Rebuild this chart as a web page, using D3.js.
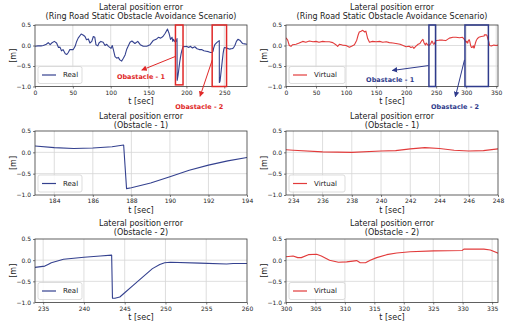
<!DOCTYPE html>
<html>
<head>
<meta charset="utf-8">
<script src="https://cdn.jsdelivr.net/npm/d3@7"></script>
<style>
body{margin:0;background:#fff;}
svg{font-family:"DejaVu Sans",sans-serif;display:block;}
</style>
</head>
<body>
<svg id="chart" width="505" height="325"></svg>
<script>
// lateral error of the real vehicle, t in seconds, error in metres
const realT = [0,4,8,11,15,17.5,20,22,25.5,28.5,31,33,35,37,40,42,44,46,50.5,53,55,57,61,64,66,68,70.5,72.5,75,77,79,80.5,83,84.5,87,90,92.5,94.7,97,100.4,102,103.5,105.7,108,110,112,114.5,116.7,119,121,123,125.5,128,130,132,135.7,139,143,147.6,152,156,160,163,166,169,172,175,177,179,181,182,183,184,185,186,187,187.6,187.75,188,189,190,191,192,193,194,195,196,198,200,203,205,208,211,214,217,220,223,226,229,232,234,235.2,235.6,236,237.5,240,242,243.4,243.5,243.8,244.4,245,246,247.2,248.4,249.3,249.9,250.6,254.2,257.5,258.3,260,262,264,266,268,271,274,277,280];
const realE = [-0.02,-0.01,-0.01,0.0,0.03,0.07,0.02,0.06,0.1,0.06,-0.05,-0.04,-0.13,-0.1,-0.2,-0.22,-0.17,-0.1,-0.1,-0.02,0.1,0.18,0.28,0.25,0.22,0.14,0.16,0.06,0.1,0.22,0.2,0.02,-0.01,0.06,0.1,0.08,0.0,0.03,-0.02,-0.07,0.0,-0.1,-0.27,-0.31,-0.29,-0.35,-0.38,-0.31,-0.23,-0.1,-0.02,0.08,0.11,0.08,0.05,0.1,0.02,-0.02,-0.02,0.02,0.12,0.15,0.2,0.18,0.22,0.3,0.4,0.3,0.15,0.2,0.1,0.15,0.11,0.09,0.1,0.13,0.17,-0.85,-0.83,-0.72,-0.57,-0.42,-0.3,-0.2,-0.12,-0.06,-0.02,-0.03,-0.02,-0.05,-0.02,-0.06,-0.03,-0.08,-0.1,-0.1,-0.13,-0.14,-0.15,-0.17,-0.17,-0.14,-0.1,-0.06,0.02,0.07,0.1,0.12,-0.9,-0.9,-0.87,-0.77,-0.6,-0.4,-0.2,-0.1,-0.06,-0.05,-0.07,-0.09,-0.08,-0.08,-0.06,0.0,0.1,0.15,0.12,0.05,0.04,0.03];

// lateral error of the virtual vehicle
const virtualT = [0,2.8,5.5,8.3,11,16.7,22,27.8,33,38.9,45,50,55,61,66,72,78,83,86,88.9,94,100,105.6,110,113.9,117.8,120,122,125,127.8,131,133,136,139,144,150,156,161,167,172,178,183,190,195,200,205,208,211,213,216,220,223,226,228,230,232,233.5,234,236,238,240,241,242,243,244,245,246,247,248,250,255,261,266,272,278,283,289,294,297,300,301.2,302,302.6,303.8,305.2,306,307.4,308.9,310.3,312,312.6,313.5,314.3,315.4,317.1,318.8,321.1,325.1,329.9,330.2,333.6,334.7,336.1,337.5,339,342,346,350,353];
const virtualE = [0.19,0.13,0.0,-0.02,0.02,0.03,0.06,0.1,0.08,0.11,0.09,0.1,0.08,0.1,0.09,0.09,0.07,0.02,-0.02,0.03,0.01,0.0,-0.04,-0.01,0.02,0.13,0.25,0.33,0.35,0.37,0.33,0.35,0.17,0.08,0.1,0.09,0.1,0.08,0.09,0.07,0.06,0.05,0.03,0.0,-0.03,-0.02,-0.05,-0.03,-0.07,-0.02,0.03,0.05,0.12,0.15,0.06,0.01,0.06,0.05,0.01,0.0,0.03,0.04,0.08,0.11,0.09,0.05,0.03,0.04,0.08,0.12,0.13,0.13,0.12,0.18,0.2,0.2,0.19,0.2,0.15,0.08,0.1,0.06,0.06,0.13,0.14,0.1,0.0,-0.05,-0.04,-0.01,-0.06,-0.06,0.0,0.06,0.13,0.17,0.2,0.22,0.23,0.26,0.26,0.24,0.16,0.1,0.0,-0.01,0.01,0.0,0.01];

const yTicks = [-1.0, -0.5, 0.0, 0.5];
const fullRealTicks = [0, 50, 100, 150, 200, 250];
const fullVirtualTicks = [0, 50, 100, 150, 200, 250, 300, 350];
const obs1RealTicks = [184, 186, 188, 190, 192, 194];
const obs1VirtualTicks = [234, 236, 238, 240, 242, 244, 246, 248];
const obs2RealTicks = [235, 240, 245, 250, 255, 260];
const obs2VirtualTicks = [300, 305, 310, 315, 320, 325, 330, 335];

// obstacle windows marked on the full-run plots: [tStart, tEnd, eLow, eHigh]
const realBoxes = [[185.5, 195.5, -0.96, 0.5], [234, 253, -1.0, 0.5]];
const virtualBoxes = [[238, 249, -1.0, 0.5], [298, 337, -1.0, 0.5]];
// callouts: arrow from [t, e] to [t, e], label anchored at [t, e]
const realNotes = [
    {text: 'Obastacle - 1', from: [185, -0.27], to: [141, -0.6], at: [140, -0.78]},
    {text: 'Obastacle - 2', from: [234.2, -0.35], to: [218, -1.24], at: [217, -1.49]}
];
const virtualNotes = [
    {text: 'Obastacle - 1', from: [237.2, -0.49], to: [177, -0.61], at: [173.5, -0.83]},
    {text: 'Obastacle - 2', from: [297.2, -0.35], to: [282, -1.25], at: [281.5, -1.49]}
];

const REAL = '#34418f', VIRTUAL = '#e23b3b';
const BOX_RED = '#e02828', BOX_BLUE = '#2f3b8c';

const realData = realT.map((t, i) => ({t, e: realE[i]}));
const virtualData = virtualT.map((t, i) => ({t, e: virtualE[i]}));

const svg = d3.select('#chart');
const defs = svg.append('defs');
[['head-red', BOX_RED], ['head-blue', BOX_BLUE]].forEach(([id, c]) => {
    defs.append('marker')
        .attr('id', id)
        .attr('viewBox', '0 0 10 10')
        .attr('refX', 9).attr('refY', 5)
        .attr('markerWidth', 5.5).attr('markerHeight', 5.5)
        .attr('markerUnits', 'userSpaceOnUse')
        .attr('orient', 'auto')
      .append('path')
        .attr('d', 'M0,0 L10,5 L0,10 z')
        .attr('fill', c);
});

const fmt = v => (v < 0 ? '\u2212' : '') + Math.abs(v).toFixed(1);

const panels = [
    {x: 35, y: 25, w: 212, h: 61.5, dom: [0, 280], ticks: fullRealTicks, data: realData, color: REAL, name: 'Real', lw: 44,
     title: ['Lateral position error', '(Ring Road Static Obstacle Avoidance Scenario)'], titleY: [7.5, 16.5],
     boxes: realBoxes, notes: realNotes, noteColor: BOX_RED, head: 'head-red'},
    {x: 286, y: 25, w: 212, h: 61.5, dom: [0, 353], ticks: fullVirtualTicks, data: virtualData, color: VIRTUAL, name: 'Virtual', lw: 56,
     title: ['Lateral position error', '(Ring Road Static Obstacle Avoidance Scenario)'], titleY: [7.5, 16.5],
     boxes: virtualBoxes, notes: virtualNotes, noteColor: BOX_BLUE, head: 'head-blue'},
    {x: 35, y: 131, w: 212, h: 64, dom: [183, 194], ticks: obs1RealTicks, data: realData, color: REAL, name: 'Real', lw: 44,
     title: ['Lateral position error', '(Obstacle - 1)'], titleY: [116, 125]},
    {x: 286, y: 131, w: 212, h: 64, dom: [233.5, 248], ticks: obs1VirtualTicks, data: virtualData, color: VIRTUAL, name: 'Virtual', lw: 56,
     title: ['Lateral position error', '(Obstacle - 1)'], titleY: [116, 125]},
    {x: 35, y: 239, w: 212, h: 63.5, dom: [234, 260], ticks: obs2RealTicks, data: realData, color: REAL, name: 'Real', lw: 44,
     title: ['Lateral position error', '(Obstacle - 2)'], titleY: [223.5, 232]},
    {x: 286, y: 239, w: 212, h: 63.5, dom: [300, 336], ticks: obs2VirtualTicks, data: virtualData, color: VIRTUAL, name: 'Virtual', lw: 56,
     title: ['Lateral position error', '(Obstacle - 2)'], titleY: [223.5, 232]}
];

panels.forEach((p, idx) => {
    let x = d3.scaleLinear().domain(p.dom).range([p.x, p.x + p.w]),
        y = d3.scaleLinear().domain([-1, 0.5]).range([p.y + p.h, p.y]);

    let g = svg.append('g');
    let clipId = 'clip' + idx;
    defs.append('clipPath').attr('id', clipId)
      .append('rect').attr('x', p.x).attr('y', p.y).attr('width', p.w).attr('height', p.h);

    // grid
    g.append('g').selectAll('line.gx').data(p.ticks.filter(t => t > p.dom[0] && t < p.dom[1])).enter()
        .append('line')
        .attr('x1', d => x(d)).attr('x2', d => x(d))
        .attr('y1', p.y).attr('y2', p.y + p.h)
        .attr('stroke', '#d6d6d6').attr('stroke-width', 0.8);
    g.append('g').selectAll('line.gy').data(yTicks.filter(v => v > -1 && v < 0.5)).enter()
        .append('line')
        .attr('x1', p.x).attr('x2', p.x + p.w)
        .attr('y1', d => y(d)).attr('y2', d => y(d))
        .attr('stroke', '#d6d6d6').attr('stroke-width', 0.8);

    // series
    let line = d3.line().x(d => x(d.t)).y(d => y(d.e));
    g.append('path')
        .datum(p.data)
        .attr('clip-path', `url(#${clipId})`)
        .attr('d', line)
        .attr('fill', 'none')
        .attr('stroke', p.color)
        .attr('stroke-width', 1.1)
        .attr('stroke-linejoin', 'round');

    // axes
    let xAxis = d3.axisBottom(x).tickValues(p.ticks).tickSize(2).tickPadding(2).tickFormat(d3.format('d'));
    let yAxis = d3.axisLeft(y).tickValues(yTicks).tickSize(2).tickPadding(2).tickFormat(fmt);
    let ax = g.append('g').attr('transform', `translate(0,${p.y + p.h})`).call(xAxis);
    let ay = g.append('g').attr('transform', `translate(${p.x},0)`).call(yAxis);
    [ax, ay].forEach(a => {
        a.select('.domain').remove();
        a.selectAll('line').attr('stroke', '#444').attr('stroke-width', 0.7);
        a.selectAll('text').attr('font-size', 6).attr('fill', '#222').attr('font-family', '"DejaVu Sans",sans-serif');
    });

    g.append('rect')
        .attr('x', p.x).attr('y', p.y).attr('width', p.w).attr('height', p.h)
        .attr('fill', 'none').attr('stroke', '#3a3a3a').attr('stroke-width', 0.8);

    // titles and labels
    p.title.forEach((s, i) => {
        g.append('text')
            .attr('x', p.x + p.w / 2).attr('y', p.titleY[i])
            .attr('text-anchor', 'middle').attr('dominant-baseline', 'central')
            .attr('font-size', 8).attr('fill', '#222')
            .text(s);
    });
    g.append('text')
        .attr('x', p.x + p.w / 2).attr('y', p.y + p.h + 15)
        .attr('text-anchor', 'middle').attr('dominant-baseline', 'central')
        .attr('font-size', 8).attr('fill', '#222')
        .text('t [sec]');
    g.append('text')
        .attr('transform', `translate(${p.x - 22},${p.y + p.h / 2}) rotate(-90)`)
        .attr('text-anchor', 'middle').attr('dominant-baseline', 'central')
        .attr('font-size', 8).attr('fill', '#222')
        .text('[m]');

    // legend
    let lx = p.x + 3, ly = p.y + p.h - 20;
    let leg = g.append('g');
    leg.append('rect')
        .attr('x', lx).attr('y', ly).attr('width', p.lw).attr('height', 17).attr('rx', 2)
        .attr('fill', 'rgba(255,255,255,0.85)').attr('stroke', '#cfcfcf').attr('stroke-width', 0.7);
    leg.append('line')
        .attr('x1', lx + 4).attr('x2', lx + 18).attr('y1', ly + 8.5).attr('y2', ly + 8.5)
        .attr('stroke', p.color).attr('stroke-width', 1.2);
    leg.append('text')
        .attr('x', lx + 25).attr('y', ly + 8.5)
        .attr('dominant-baseline', 'central')
        .attr('font-size', 7).attr('fill', '#222')
        .text(p.name);

    // obstacle windows and callouts
    if(p.boxes){
        g.selectAll('rect.box').data(p.boxes).enter()
            .append('rect')
            .attr('x', d => x(d[0])).attr('y', d => y(d[3]))
            .attr('width', d => x(d[1]) - x(d[0]))
            .attr('height', d => y(d[2]) - y(d[3]))
            .attr('fill', 'none').attr('stroke', p.noteColor).attr('stroke-width', 1.5);

        p.notes.forEach(n => {
            g.append('line')
                .attr('x1', x(n.from[0])).attr('y1', y(n.from[1]))
                .attr('x2', x(n.to[0])).attr('y2', y(n.to[1]))
                .attr('stroke', p.noteColor).attr('stroke-width', 1)
                .attr('marker-end', `url(#${p.head})`);
            g.append('text')
                .attr('x', x(n.at[0])).attr('y', y(n.at[1]))
                .attr('text-anchor', 'middle').attr('dominant-baseline', 'central')
                .attr('font-size', 6.5).attr('font-weight', 'bold').attr('fill', p.noteColor)
                .text(n.text);
        });
    }
});
</script>
</body>
</html>
